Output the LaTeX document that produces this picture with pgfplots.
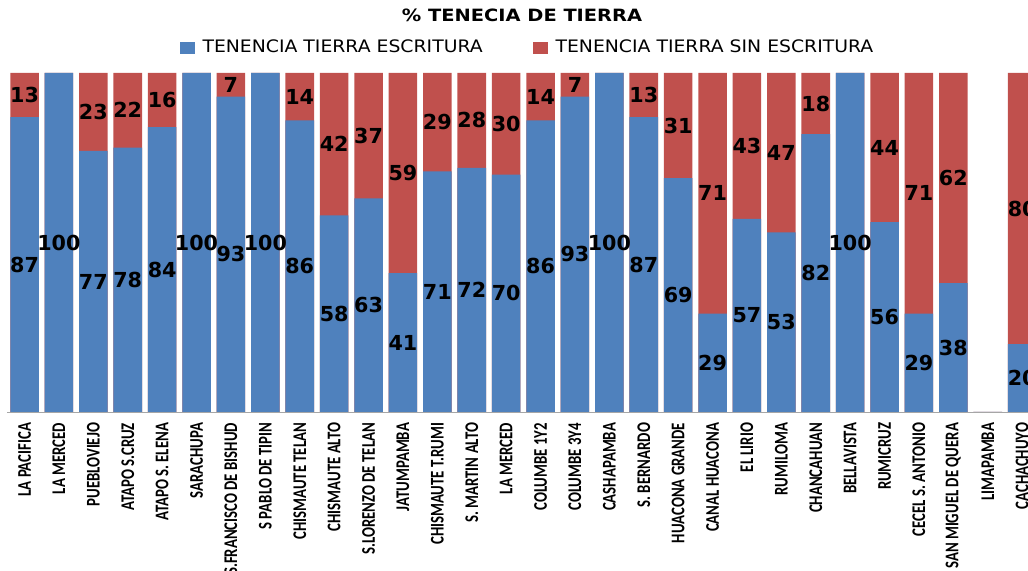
\documentclass[border=0pt]{standalone}
\usepackage{fontspec}
\usepackage{pgfplots}
\usepackage{pgfplotstable}
\pgfplotsset{compat=1.18}
\newfontfamily\tickfont[FakeStretch=0.765]{Carlito}
\newfontfamily\titlefont[FakeStretch=1.146]{DejaVu Sans}
\newfontfamily\legfont[FakeStretch=1.094]{DejaVu Sans}
\newfontfamily\labfont{DejaVu Sans}
\definecolor{cblue}{HTML}{4F81BD}
\definecolor{cred}{HTML}{C0504D}
\pgfplotstableread{
x b r
0 87 13
1 100 0
2 77 23
3 78 22
4 84 16
5 100 0
6 93 7
7 100 0
8 86 14
9 58 42
10 63 37
11 41 59
12 71 29
13 72 28
14 70 30
15 86 14
16 93 7
17 100 0
18 87 13
19 69 31
20 29 71
21 57 43
22 53 47
23 82 18
24 100 0
25 56 44
26 29 71
27 38 62
28 0 0
29 20 80
}\data
\begin{document}
\begin{tikzpicture}
\begin{axis}[
  at={(5.5pt,119.25pt)}, anchor=south west,
  scale only axis, width=765.5pt, height=254.25pt,
  xmin=-0.5, xmax=29.17, ymin=0, ymax=100,
  axis x line=bottom, axis y line=none,
  axis line style={draw=gray!70, -},
  ytick=\empty,
  xtick={0,...,29},
  major tick length=0pt,
  xticklabels={LA PACIFICA, LA MERCED, PUEBLOVIEJO, ATAPO S.CRUZ, ATAPO S. ELENA, SARACHUPA, S.FRANCISCO DE BISHUD, S PABLO DE TIPIN, CHISMAUTE TELAN, CHISMAUTE ALTO, S.LORENZO DE TELAN, JATUMPAMBA, CHISMAUTE T.RUMI, S. MARTIN ALTO, LA MERCED, COLUMBE 1Y2, COLUMBE 3Y4, CASHAPAMBA, S. BERNARDO, HUACONA GRANDE, CANAL HUACONA, EL LIRIO, RUMILOMA, CHANCAHUAN, BELLAVISTA, RUMICRUZ, CECEL S. ANTONIO, SAN MIGUEL DE QUERA, LIMAPAMBA, CACHACHUYO},
  x tick label style={rotate=90, anchor=east, inner sep=0pt, xshift=-8pt, font=\tickfont\bfseries\fontsize{14.5}{16}\selectfont},
  title={\% TENECIA DE TIERRA},
  every axis title/.style={at={(0.5043,1.1696)}, anchor=center, inner sep=0pt, font=\titlefont\bfseries\fontsize{12.7}{14}\selectfont},
  legend style={at={(0.1692,1.0752)}, anchor=west, draw=none, fill=none, inner sep=0pt,
    legend columns=2, font=\legfont\fontsize{12.9}{14}\selectfont,
    /tikz/every even column/.append style={column sep=36pt}},
  legend cell align=left,
  every node near coord/.append style={anchor=center, font=\labfont\bfseries\fontsize{15.5}{16}\selectfont, text=black},
]
\addlegendimage{legend image code/.code={\fill[cblue] (0pt,-4.25pt) rectangle (10.5pt,4.25pt); \path (14.25pt,0pt);}}
\addlegendentry{TENENCIA TIERRA ESCRITURA}
\addlegendimage{legend image code/.code={\fill[cred] (0pt,-4.25pt) rectangle (10.5pt,4.25pt); \path (14.25pt,0pt);}}
\addlegendentry{TENENCIA TIERRA SIN ESCRITURA}
\addplot[forget plot, ybar, bar width=21.4pt, bar shift=0pt, fill=cred, draw=none] table[x=x, y expr=\thisrow{b}+\thisrow{r}] {\data};
\addplot[forget plot, ybar, bar width=21.4pt, bar shift=0pt, fill=cblue, draw=none] table[x=x, y=b] {\data};
\addplot[forget plot, draw=none, mark=none, restrict y to domain=0:100, nodes near coords, point meta=explicit, /pgf/number format/assume math mode=true]
  table[x=x, y expr={\thisrow{b}>0 ? \thisrow{b}/2 : -1}, meta=b] {\data};
\addplot[forget plot, draw=none, mark=none, restrict y to domain=0:100, nodes near coords, point meta=explicit, /pgf/number format/assume math mode=true]
  table[x=x, y expr={\thisrow{r}>0 ? \thisrow{b}+\thisrow{r}/2 : -1}, meta=r] {\data};
\end{axis}
\pgfresetboundingbox
\useasboundingbox (0,0) rectangle (771pt,428.25pt);
\end{tikzpicture}
\end{document}
